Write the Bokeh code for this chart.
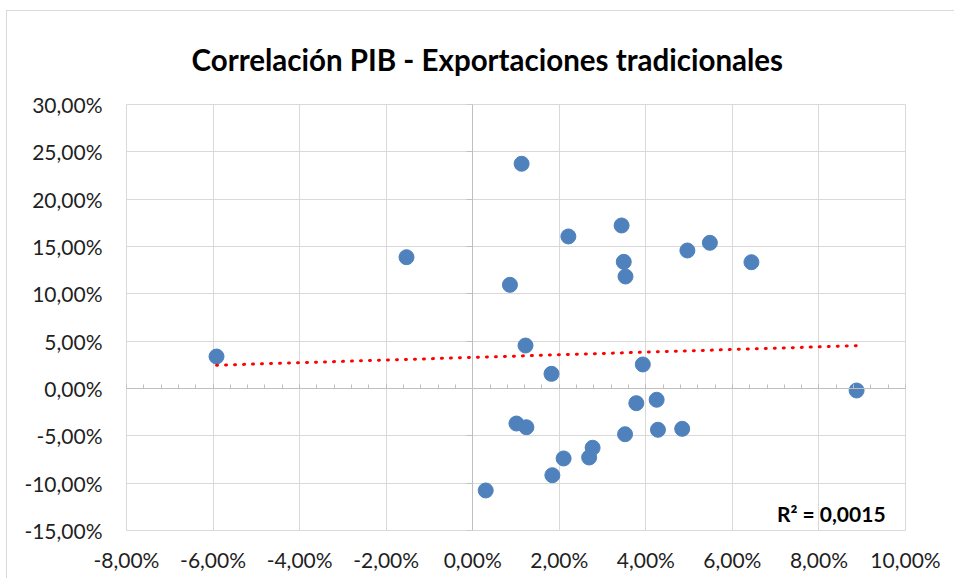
import numpy as np
from bokeh.plotting import figure
from bokeh.models import (Range1d, LinearAxis, FixedTicker, SingleIntervalTicker,
                          CustomJSTickFormatter, Label, Title)
from bokeh.embed import file_html
from bokeh.resources import INLINE

# ---- data (percent units) ----
pib = [-5.92, -1.53, 1.13, 2.21, 3.44, 4.96, 5.48, 6.44, 3.49, 3.53, 0.86, 1.22,
       1.82, 3.93, 8.87, 3.78, 4.25, 1.01, 1.24, 3.52, 4.28, 4.84, 2.77, 2.10,
       2.69, 1.84, 0.30]
exportaciones = [3.38, 13.87, 23.74, 16.06, 17.22, 14.58, 15.39, 13.34, 13.38,
                 11.83, 10.95, 4.54, 1.55, 2.54, -0.21, -1.55, -1.19, -3.70,
                 -4.09, -4.83, -4.36, -4.26, -6.26, -7.39, -7.29, -9.16, -10.77]
trend_x = [-5.92, 8.87]
trend_y = [2.46, 4.52]
x_ticks = [-8, -6, -4, -2, 0, 2, 4, 6, 8, 10]
y_ticks = [-15, -10, -5, 0, 5, 10, 15, 20, 25, 30]
title_text = "Correlación PIB - Exportaciones tradicionales"
r2_text = "R² = 0,0015"

FONT = "Lato"
TXT = "#1f1f1f"
GRID = "#d9d9d9"
AXIS = "#bfbfbf"

p = figure(width=948, height=568,
           x_range=Range1d(-8, 10), y_range=Range1d(-15, 30),
           output_backend="svg", toolbar_location=None,
           x_axis_location=None, y_axis_location=None,
           min_border_left=119, min_border_right=50,
           min_border_top=93, min_border_bottom=49,
           background_fill_color="white", border_fill_color="white",
           outline_line_color=GRID, outline_line_width=1)
p.styles = {"margin-left": "6px", "margin-top": "10px",
            "border-top": "1px solid #d9d9d9", "border-left": "1px solid #d9d9d9"}

p.add_layout(Title(text=title_text, align="left", offset=65, standoff=56,
                   text_font=FONT, text_font_style="bold", text_font_size="29.5px",
                   text_color="#000000"), "above")

fmt = CustomJSTickFormatter(code="return tick.toFixed(2).replace('.', ',') + '%';")
blank = CustomJSTickFormatter(code="return '';")

# label axes (low position)
yl = LinearAxis(ticker=FixedTicker(ticks=y_ticks), formatter=fmt,
                axis_line_color=None, major_tick_line_color=None,
                minor_tick_line_color=None, major_tick_in=0, major_tick_out=0,
                major_label_standoff=24, major_label_text_font=FONT,
                major_label_text_font_size="21px", major_label_text_color=TXT)
p.add_layout(yl, "left")
xl = LinearAxis(ticker=FixedTicker(ticks=x_ticks), formatter=fmt,
                axis_line_color=None, major_tick_line_color=None,
                minor_tick_line_color=None, major_tick_in=0, major_tick_out=0,
                major_label_standoff=16, major_label_text_font=FONT,
                major_label_text_font_size="21px", major_label_text_color=TXT)
p.add_layout(xl, "below")

# axes crossing at zero
y0 = LinearAxis(fixed_location=0, ticker=FixedTicker(ticks=y_ticks), formatter=blank,
                axis_line_color=AXIS, major_tick_line_color=AXIS,
                major_tick_out=6, major_tick_in=0, minor_tick_line_color=None,
                major_label_standoff=0, major_label_text_font_size="1px")
p.add_layout(y0, "left")
x0 = LinearAxis(fixed_location=0, ticker=SingleIntervalTicker(interval=2, num_minor_ticks=5),
                formatter=blank, axis_line_color=AXIS,
                major_tick_line_color=AXIS, major_tick_in=4, major_tick_out=0,
                minor_tick_line_color=AXIS, minor_tick_in=4, minor_tick_out=0,
                major_label_standoff=0, major_label_text_font_size="1px")
p.add_layout(x0, "below")

p.xgrid.ticker = FixedTicker(ticks=x_ticks)
p.ygrid.ticker = FixedTicker(ticks=y_ticks)
p.grid.grid_line_color = GRID
p.grid.grid_line_width = 1

p.scatter(pib, exportaciones, size=15, fill_color="#4f81bd", line_color="#4f81bd")
p.line(trend_x, trend_y, line_color="#ff0000", line_width=3,
       line_dash="1 8", line_cap="round")

p.add_layout(Label(x=9.54, y=-13.2, text=r2_text, text_align="right",
                   text_baseline="alphabetic", text_font=FONT, text_font_style="bold",
                   text_font_size="21px", text_color="#000000"))

open("out.html", "w").write(file_html(p, INLINE))
